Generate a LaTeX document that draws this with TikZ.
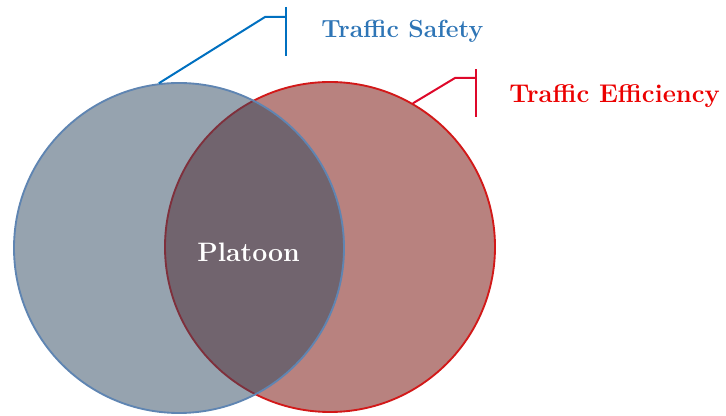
\documentclass[tikz,border=0pt]{standalone}
\usepackage{amsmath,amssymb}
\usepackage{tikz}

\definecolor{safetyfill}{RGB}{45,71,95}
\definecolor{safetyedge}{RGB}{95,133,178}
\definecolor{safetyline}{RGB}{0,112,192}
\definecolor{safetytext}{RGB}{46,117,182}
\definecolor{efficfill}{RGB}{113,5,0}
\definecolor{efficedge}{RGB}{210,25,25}
\definecolor{efficline}{RGB}{222,8,42}
\definecolor{effictext}{RGB}{235,0,0}

\begin{document}
\begin{tikzpicture}[x=0.75pt,y=-0.75pt,
  venn/.style={circle,minimum size=247.5pt,inner sep=0pt,line width=1.4pt},
  leader/.style={line width=1.5pt},
  goal/.style={anchor=base west,inner sep=0pt,font=\bfseries}]

\useasboundingbox (0,0) rectangle (726,416);

% the two sets, the left one is drawn last so it lies on top
\node[venn,draw=efficedge,fill=efficfill,fill opacity=0.5,draw opacity=1] (effic) at (330,247) {};
\node[venn,draw=safetyedge,fill=safetyfill,fill opacity=0.5,draw opacity=1] (safety) at (179,248) {};

% labels with their brackets
\node[goal,text=safetytext] (safetylabel) at (321,38) {\fontsize{18.6}{22}\selectfont Traffic Safety};
\node[goal,text=effictext] (efficlabel) at (509,103) {\fontsize{19.2}{23}\selectfont Traffic Efficiency};

\coordinate (safetybend) at (265,17);
\coordinate (safetytick) at (286,17);
\coordinate (efficbend) at (455,78);
\coordinate (effictick) at (476,78);

\draw[leader,safetyline] (safety.97.5) -- (safetybend) -- (safetytick);
\draw[leader,safetyline] ([yshift=7.5pt]safetytick) -- ([yshift=-29pt]safetytick);
\draw[leader,efficline] (effic.60.3) -- (efficbend) -- (effictick);
\draw[leader,efficline] ([yshift=6.5pt]effictick) -- ([yshift=-29pt]effictick);

% the overlap
\node[anchor=base west,inner sep=0pt,text=white,font=\fontsize{20}{24}\selectfont\bfseries] (platoon) at (197,262) {Platoon};

\end{tikzpicture}
\end{document}
